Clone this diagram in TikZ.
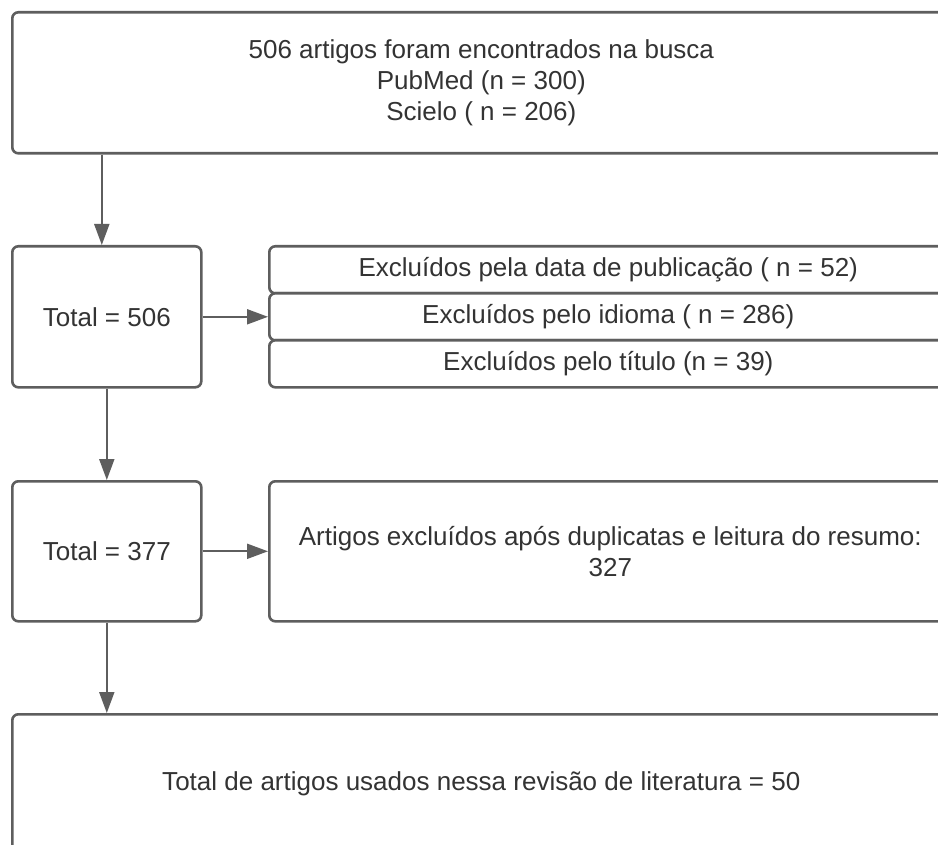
\documentclass[tikz,border=0pt]{standalone}
\usepackage{fontspec}
\setmainfont{Liberation Sans}
\usetikzlibrary{arrows.meta,calc}
\definecolor{edgegray}{HTML}{5E5E5E}
\definecolor{txtgray}{HTML}{333333}
\tikzset{
  box/.style={draw=edgegray, line width=2.6pt, rounded corners=6pt, fill=white,
    text=txtgray, align=center, inner sep=0pt, anchor=north west,
    font=\fontsize{26}{31}\selectfont},
  arr/.style={draw=edgegray, line width=2pt, -{Triangle[length=21pt,width=15pt]}}
}
\begin{document}
\begin{tikzpicture}[x=1pt,y=-1pt]
\useasboundingbox (0,0) rectangle (938,845);
\clip (0,0) rectangle (938,845);
\fill[white] (0,0) rectangle (938,845);
\node[box, minimum width=938pt, minimum height=141pt] (top) at (11,11)
  {506 artigos foram encontrados na busca\\PubMed (n = 300)\\Scielo ( n = 206)};
\node[box, minimum width=189pt, minimum height=141pt] (t506) at (11,245) {Total = 506};
\node[box, minimum width=678pt, minimum height=47pt] (ex1) at (268,245) {Excluídos pela data de publicação ( n = 52)};
\node[box, minimum width=678pt, minimum height=47pt] (ex2) at (268,292) {Excluídos pelo idioma ( n = 286)};
\node[box, minimum width=678pt, minimum height=47pt] (ex3) at (268,339) {Excluídos pelo título (n = 39)};
\node[box, minimum width=189pt, minimum height=140pt] (t377) at (11,480) {Total = 377};
\node[box, minimum width=682pt, minimum height=140pt] (art) at (268,480)
  {Artigos excluídos após duplicatas e leitura do resumo:\\327};
\node[box, minimum width=938pt, minimum height=138pt] (fin) at (11,713)
  {Total de artigos usados nessa revisão de literatura = 50};
\draw[arr] ([xshift=-5pt]t506.north |- top.south) -- ([xshift=-5pt]t506.north);
\draw[arr] (t506.east) -- (ex2.west);
\draw[arr] (t506.south) -- (t377.north);
\draw[arr] (t377.east) -- (art.west);
\draw[arr] (t377.south) -- (t377.south |- fin.north);
\end{tikzpicture}
\end{document}
